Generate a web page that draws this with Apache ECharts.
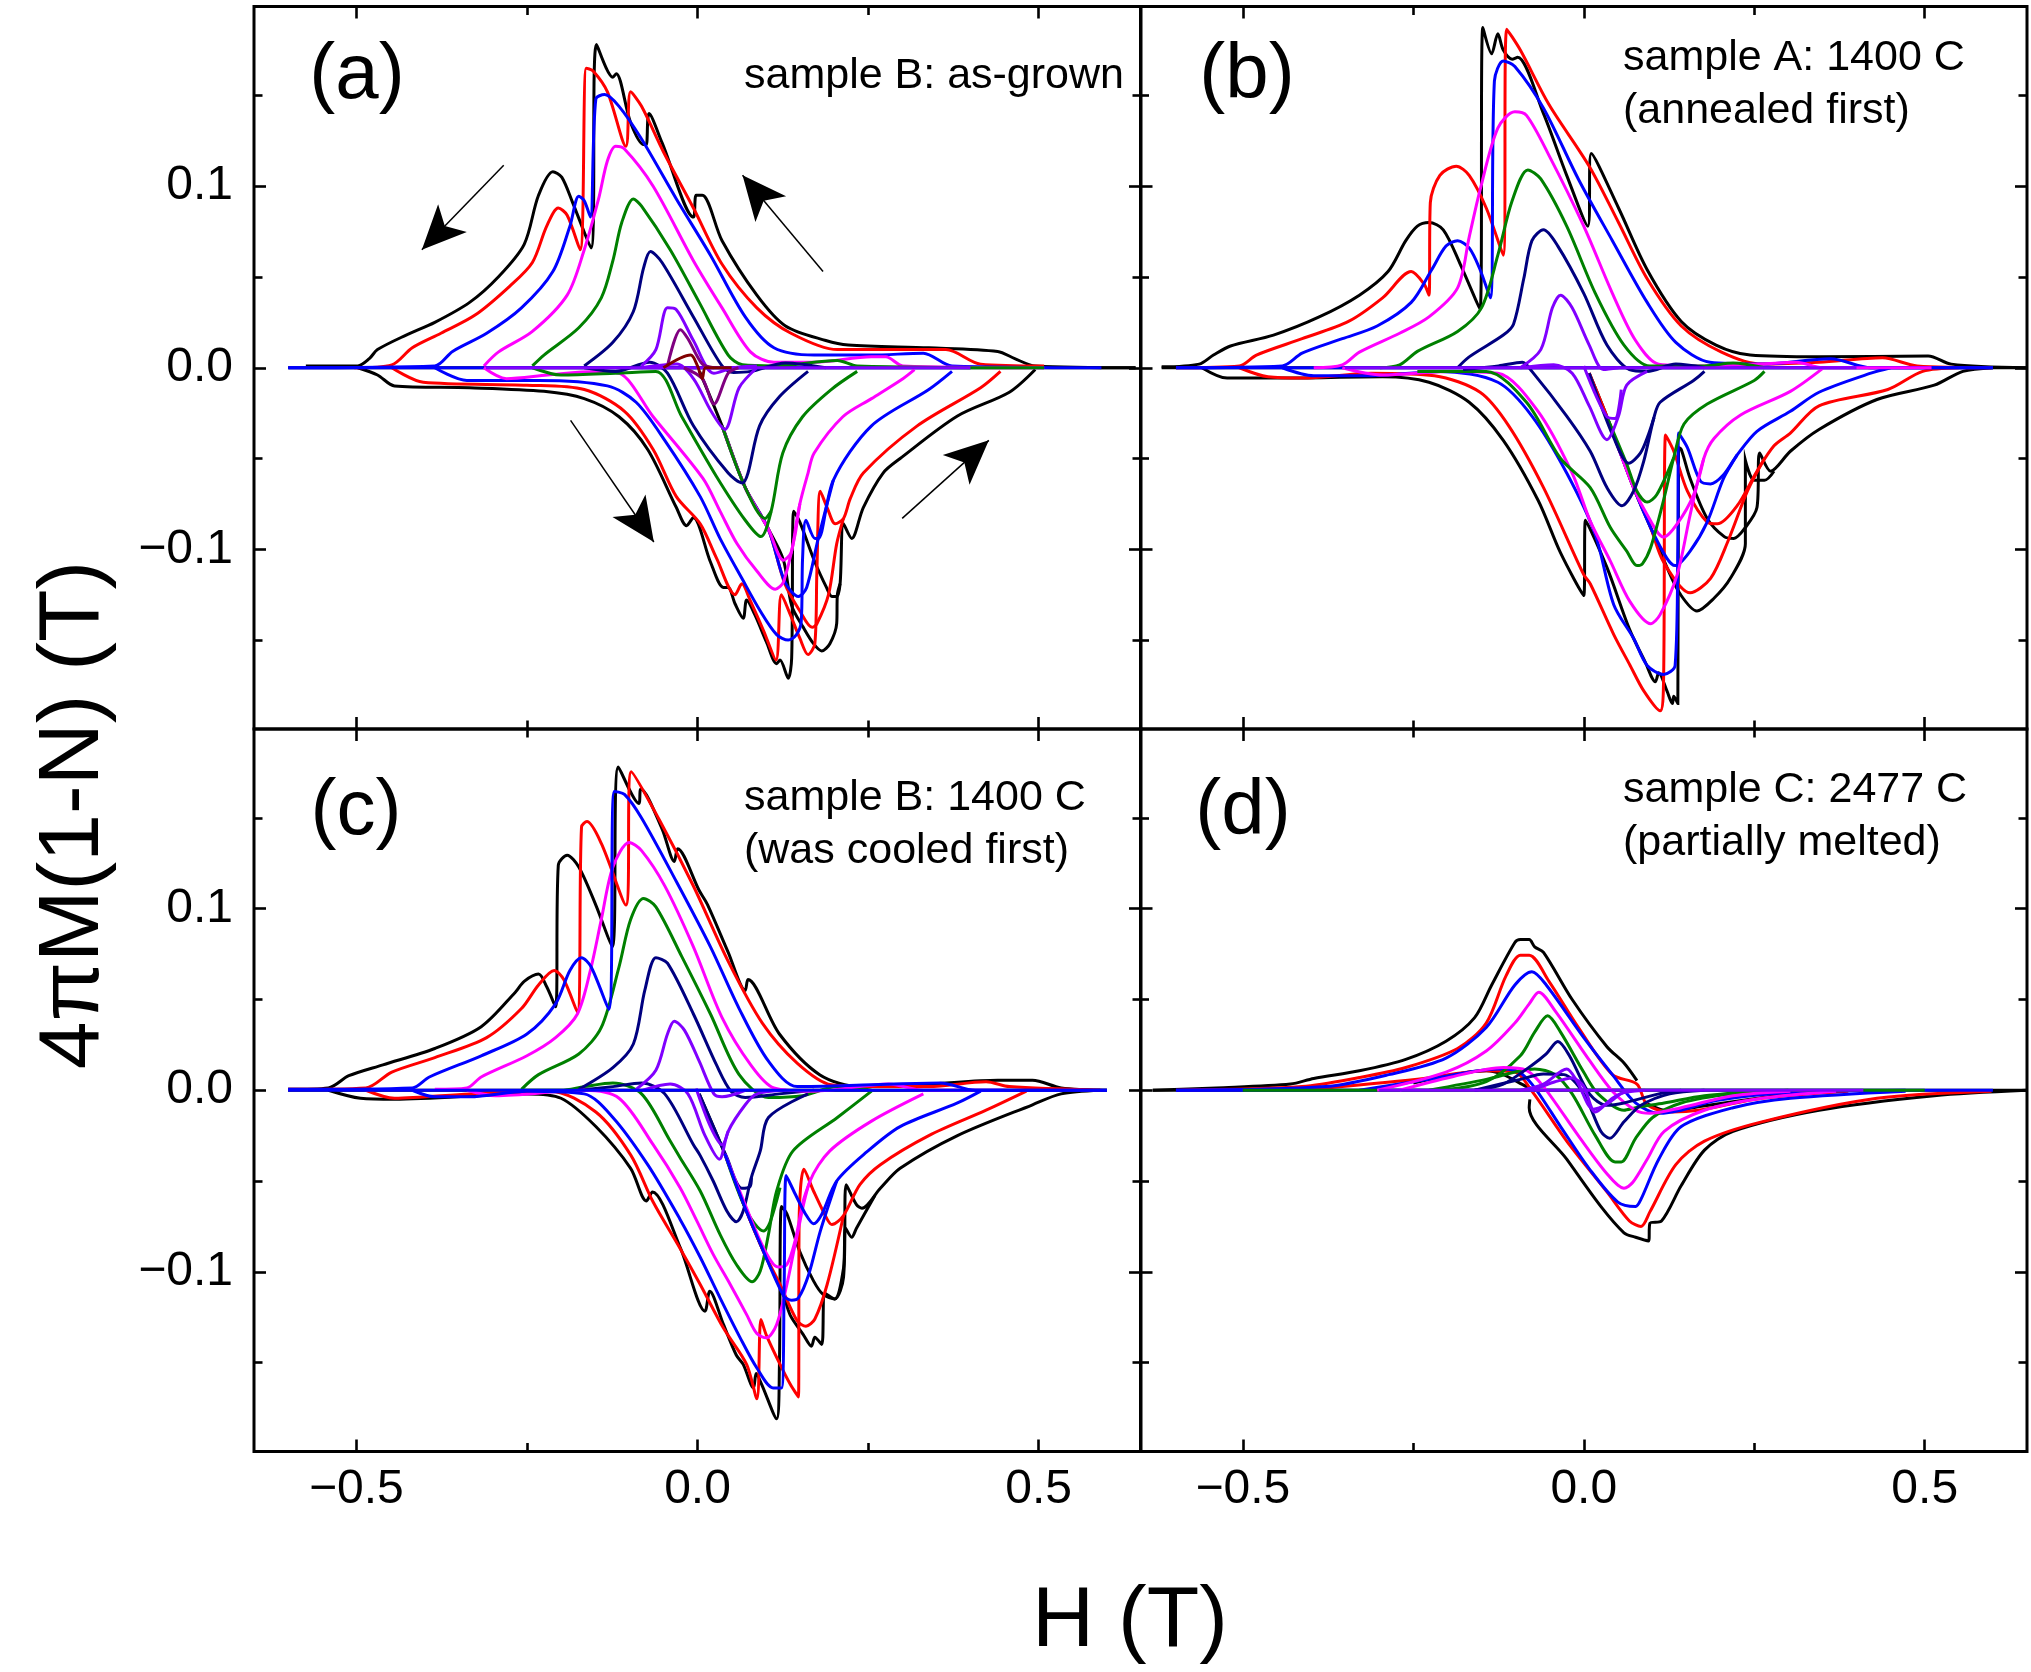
<!DOCTYPE html>
<html>
<head>
<meta charset="utf-8">
<title>4piM(1-N) vs H</title>
<script src="https://cdn.jsdelivr.net/npm/echarts@6/dist/echarts.min.js"></script>
<style>html,body{margin:0;background:#fff}#main{width:2031px;height:1672px}</style>
</head>
<body>
<div id="main"></div>
<script>
// all points are [H (T), 4piM(1-N) (T)]
var xMajor = [-0.5, 0, 0.5], xMinor = [-0.25, 0.25];
var yMajor = [-0.1, 0, 0.1], yMinor = [-0.15, -0.05, 0.05, 0.15];
var panelLabels = ['(a)', '(b)', '(c)', '(d)'];
var panelNotes = [['sample B: as-grown'], ['sample A: 1400 C', '(annealed first)'], ['sample B: 1400 C', '(was cooled first)'], ['sample C: 2477 C', '(partially melted)']];
var xTitle = 'H (T)', yTitle = '4\u03C0M(1-N) (T)';
var black = '#000000', red = '#ff0000', blue = '#0000ff', magenta = '#ff00ff', green = '#008000', navy = '#000080', violet = '#8000ff', plum = '#800080', maroon = '#800000';

// panel a
var aArrows = [[[-.284,.1115],[-.404,.065]], [[.184,.053],[.066,.106]], [[-.186,-.029],[-.064,-.096]], [[.300,-.083],[.427,-.040]]];
var aBaseBlack = [[-.6,0],[.642,0]], aBaseBlue = [[-.6,0],[.4,0]], aBaseViolet = [[-.31,0],[.4,0]];
var aBlackUp = [[-.574,.001],[-.498,.001],[-.481,.005],[-.469,.010],[-.427,.018],[-.385,.025],[-.334,.036],[-.292,.050],[-.254,.068],[-.233,.095],[-.212,.108],[-.199,.105],[-.183,.091],[-.156,.066],[-.148,.178],[-.124,.160],[-.119,.162],[-.098,.135],[-.079,.123],[-.075,.123],[-.071,.140],[-.052,.124],[-.006,.083],[-.002,.095],[.007,.095],[.036,.070],[.087,.040],[.129,.023],[.188,.015],[.221,.0125],[.339,.011],[.440,.009],[.465,.005],[.495,.001],[.642,0]];
var aBlackLow = [[-.498,0],[-.469,-.004],[-.444,-.010],[-.334,-.011],[-.225,-.013],[-.166,-.017],[-.115,-.027],[-.073,-.045],[-.031,-.077],[-.016,-.087],[-.006,-.0825],[.019,-.107],[.038,-.121],[.045,-.121],[.055,-.130],[.067,-.138],[.072,-.128],[.084,-.136],[.101,-.151],[.116,-.163],[.121,-.161],[.133,-.171],[.138,-.160],[.141,-.079],[.150,-.085],[.172,-.107],[.189,-.121],[.197,-.126],[.204,-.126],[.209,-.119],[.214,-.086],[.226,-.094],[.243,-.077],[.272,-.058],[.297,-.050],[.381,-.0266],[.457,-.0135],[.495,-.001]];
var aBlackFirst = [[.003,-.002],[.036,-.032],[.070,-.066],[.104,-.089],[.126,-.106],[.138,-.131],[.155,-.143],[.170,-.152],[.182,-.156],[.194,-.152],[.204,-.141],[.205,-.125],[.209,-.119]];
var aRedUp = [[-.503,0],[-.448,.0016],[-.418,.011],[-.376,.019],[-.326,.029],[-.275,.045],[-.242,.058],[-.221,.078],[-.204,.088],[-.191,.084],[-.172,.065],[-.163,.165],[-.153,.1635],[-.132,.152],[-.105,.122],[-.098,.152],[-.082,.144],[-.050,.119],[-.006,.088],[.036,.057],[.087,.033],[.137,.019],[.205,.010],[.364,.010],[.415,.002],[.508,.001]];
var aRedLow = [[-.448,0],[-.402,-.008],[-.25,-.0096],[-.166,-.012],[-.107,-.024],[-.065,-.045],[-.031,-.071],[.004,-.086],[.028,-.105],[.055,-.125],[.065,-.119],[.077,-.128],[.097,-.145],[.115,-.161],[.123,-.125],[.136,-.136],[.150,-.149],[.162,-.158],[.172,-.152],[.175,-.112],[.180,-.068],[.190,-.077],[.202,-.086],[.214,-.083],[.224,-.072],[.243,-.058],[.322,-.032],[.415,-.011],[.444,-.002]];
var aRedFirst = [[.036,-.032],[.070,-.066],[.104,-.089],[.128,-.119],[.150,-.134],[.168,-.143],[.175,-.141],[.192,-.125],[.204,-.097],[.214,-.083]];
var aBlueUp = [[-.599,0],[-.385,.001],[-.359,.009],[-.309,.019],[-.258,.033],[-.212,.053],[-.187,.078],[-.174,.0945],[-.166,.092],[-.157,.083],[-.149,.148],[-.136,.1505],[-.115,.144],[-.082,.126],[-.031,.093],[.019,.062],[.070,.028],[.112,.011],[.171,.007],[.255,.007],[.331,.008],[.373,.001],[.592,0]];
var aBlueLow = [[-.385,0],[-.338,-.007],[-.233,-.007],[-.132,-.010],[-.09,-.019],[-.048,-.040],[.004,-.071],[.033,-.094],[.065,-.116],[.092,-.134],[.116,-.147],[.133,-.150],[.145,-.147],[.152,-.140],[.154,-.105],[.159,-.084],[.172,-.094],[.177,-.094],[.199,-.062],[.255,-.032],[.339,-.012],[.373,-.002]];
var aBlueFirst = [[.036,-.032],[.070,-.066],[.104,-.089],[.128,-.118],[.148,-.126],[.160,-.121],[.177,-.094],[.199,-.062]];
var aMagentaUp = [[-.313,.001],[-.292,.0086],[-.242,.020],[-.191,.040],[-.166,.065],[-.145,.093],[-.132,.114],[-.120,.122],[-.107,.1205],[-.065,.100],[-.006,.059],[.036,.033],[.078,.0086],[.112,.003],[.171,.003],[.255,.006],[.276,.006],[.301,.001],[.508,0]];
var aMagentaLow = [[-.313,0],[-.28,-.006],[-.22,-.004],[-.15,-.002],[-.115,-.003],[-.065,-.027],[.008,-.061],[.033,-.079],[.058,-.097],[.087,-.112],[.114,-.122],[.126,-.118],[.143,-.092],[.150,-.075],[.162,-.058],[.171,-.047],[.213,-.027],[.255,-.017],[.301,-.006],[.318,-.001]];
var aMagentaFirst = [[.036,-.032],[.070,-.066],[.104,-.089],[.126,-.106],[.137,-.102],[.145,-.085],[.150,-.075]];
var aGreenUp = [[-.242,.001],[-.225,.007],[-.174,.022],[-.141,.0385],[-.124,.059],[-.111,.080],[-.094,.093],[-.082,.089],[-.040,.065],[.0025,.036],[.045,.007],[.066,.0016],[.112,.001],[.205,.004],[.234,.001],[.508,0]];
var aGreenLow = [[-.242,0],[-.2,-.004],[-.12,-.003],[-.061,-.002],[-.023,-.027],[.028,-.060],[.07,-.084],[.093,-.093],[.108,-.079],[.125,-.047],[.154,-.027],[.196,-.012],[.234,-.002]];
var aGreenFirst = [[.036,-.032],[.070,-.066],[.099,-.083],[.108,-.079]];
var aNavyUp = [[-.166,.001],[-.124,.014],[-.094,.031],[-.079,.055],[-.069,.064],[-.052,.058],[-.006,.028],[.036,.001],[.053,-.0026],[.078,-.002],[.129,.0026],[.188,0]];
var aNavyLow = [[-.166,0],[-.12,-.002],[-.07,.003],[-.044,-.003],[-.006,-.032],[.045,-.058],[.066,-.0635],[.074,-.058],[.091,-.032],[.120,-.016],[.162,-.002]];
var aVioletUp = [[-.082,.001],[-.061,.010],[-.044,.033],[-.031,.032],[-.006,.015],[.024,-.003],[.053,0],[.087,.001]];
var aVioletLow = [[-.082,0],[-.03,.002],[-.006,-.006],[.02,-.024],[.040,-.034],[.061,-.011],[.087,0]];
var aPlumUp = [[-.044,.001],[-.025,.021],[-.014,.016],[.007,.002],[.024,0]];
var aPlumLow = [[-.02,0],[.007,-.006],[.024,-.020],[.045,-.003],[.06,0]];
var aMaroon = [[-.05,0],[-.01,.007],[0,.001],[.007,-.006],[.012,0],[.05,0]];

// panel b
var bBaseBlack = [[-.619,0],[.649,0]], bBaseBlue = [[-.598,0],[.6,0]], bBaseViolet = [[-.35,0],[.4,0]];
var bBlackUp = [[-.619,.0005],[-.564,.002],[-.543,.007],[-.518,.012],[-.455,.018],[-.388,.028],[-.329,.040],[-.287,.053],[-.261,.070],[-.244,.078],[-.227,.080],[-.206,.076],[-.181,.057],[-.152,.032],[-.148,.1875],[-.135,.173],[-.126,.184],[-.118,.175],[-.105,.170],[-.097,.171],[-.059,.140],[-.025,.106],[.006,.078],[.011,.118],[.051,.088],[.093,.054],[.143,.0255],[.194,.0125],[.244,.007],[.345,.006],[.505,.0065],[.539,.002],[.649,0]];
var bBlackLow = [[-.56,0],[-.523,-.0057],[-.446,-.0057],[-.295,-.005],[-.227,-.008],[-.168,-.019],[-.118,-.040],[-.067,-.073],[-.034,-.102],[0,-.1255],[.0025,-.084],[.034,-.110],[.067,-.144],[.090,-.162],[.105,-.173],[.110,-.168],[.122,-.178],[.130,-.185],[.132,-.181],[.138,-.185],[.139,-.044],[.143,-.045],[.156,-.061],[.181,-.083],[.206,-.093],[.220,-.094],[.237,-.088],[.254,-.077],[.258,-.047],[.274,-.057],[.303,-.046],[.345,-.034],[.430,-.0175],[.514,-.0096],[.556,-.002],[.6,0]];
var bBlackFirst = [[.008,-.003],[.034,-.027],[.073,-.066],[.098,-.088],[.122,-.110],[.142,-.125],[.166,-.134],[.191,-.127],[.215,-.116],[.237,-.097],[.237,-.051],[.250,-.062],[.265,-.062],[.279,-.057]];
var bRedUp = [[-.598,0],[-.505,.001],[-.480,.007],[-.413,.016],[-.345,.0255],[-.295,.0385],[-.253,.053],[-.234,.046],[-.227,.040],[-.225,.091],[-.211,.106],[-.187,.111],[-.168,.106],[-.143,.088],[-.118,.062],[-.113,.1865],[-.093,.175],[-.051,.145],[.008,.111],[.051,.080],[.093,.049],[.143,.023],[.202,.0086],[.261,.002],[.345,.003],[.438,.0055],[.489,.001],[.598,0]];
var bRedLow = [[-.505,0],[-.463,-.005],[-.413,-.0057],[-.312,-.003],[-.219,-.0044],[-.152,-.0135],[-.11,-.032],[-.059,-.066],[0,-.114],[.0095,-.119],[.044,-.147],[.068,-.164],[.088,-.178],[.112,-.189],[.117,-.173],[.120,-.037],[.132,-.046],[.152,-.068],[.181,-.085],[.196,-.086],[.225,-.076],[.254,-.057],[.279,-.043],[.303,-.036],[.345,-.021],[.446,-.012],[.497,-.002],[.55,0]];
var bRedFirst = [[.008,-.003],[.034,-.027],[.073,-.066],[.098,-.088],[.117,-.107],[.156,-.124],[.186,-.116],[.211,-.096],[.240,-.068],[.265,-.05]];
var bBlueUp = [[-.598,0],[-.442,.001],[-.413,.008],[-.354,.016],[-.303,.023],[-.253,.036],[-.223,.054],[-.202,.067],[-.185,.070],[-.168,.066],[-.152,.054],[-.137,.0385],[-.131,.158],[-.118,.169],[-.101,.166],[-.059,.143],[-.008,.104],[.042,.070],[.093,.036],[.135,.014],[.185,.003],[.261,.002],[.362,.005],[.421,0],[.6,0]];
var bBlueLow = [[-.442,0],[-.396,-.0044],[-.312,-.0044],[-.21,-.002],[-.126,-.008],[-.076,-.0266],[-.025,-.058],[.017,-.092],[.044,-.1305],[.073,-.149],[.093,-.164],[.117,-.169],[.134,-.164],[.138,-.099],[.139,-.036],[.152,-.044],[.171,-.0624],[.186,-.064],[.205,-.059],[.225,-.048],[.254,-.035],[.303,-.024],[.345,-.0135],[.421,-.003],[.45,0]];
var bBlueFirst = [[.034,-.027],[.073,-.066],[.098,-.088],[.122,-.105],[.134,-.109],[.156,-.101],[.181,-.085],[.205,-.061],[.225,-.048]];
var bMagentaUp = [[-.396,0],[-.354,.0016],[-.329,.0086],[-.270,.019],[-.227,.028],[-.185,.044],[-.168,.072],[-.152,.098],[-.126,.132],[-.101,.141],[-.084,.139],[-.051,.117],[0,.078],[.042,.041],[.076,.015],[.110,.002],[.177,.001],[.261,.002],[.312,.003],[.350,0],[.51,0]];
var bMagentaLow = [[-.354,0],[-.295,-.004],[-.2,-.002],[-.126,-.003],[-.067,-.024],[-.017,-.058],[.0095,-.0845],[.039,-.1065],[.068,-.129],[.098,-.141],[.112,-.136],[.137,-.114],[.156,-.081],[.176,-.050],[.191,-.039],[.230,-.026],[.303,-.013],[.350,-.0005]];
var bMagentaFirst = [[.034,-.027],[.073,-.066],[.093,-.081],[.117,-.0933],[.137,-.086],[.161,-.070],[.176,-.050]];
var bGreenUp = [[-.299,0],[-.270,.0016],[-.244,.009],[-.185,.020],[-.150,.033],[-.126,.062],[-.105,.092],[-.082,.109],[-.063,.104],[-.025,.078],[.017,.041],[.059,.0125],[.097,.001],[.177,.001],[.219,.0026],[.265,0]];
var bGreenLow = [[-.244,-.002],[-.143,-.002],[-.084,-.019],[-.034,-.05],[.0095,-.066],[.039,-.088],[.063,-.101],[.078,-.109],[.086,-.108],[.098,-.0992],[.117,-.073],[.132,-.0495],[.147,-.031],[.181,-.02],[.250,-.007],[.265,-.002]];
var bGreenFirst = [[.034,-.027],[.063,-.053],[.078,-.068],[.093,-.074],[.107,-.07],[.132,-.0495]];
var bNavyUp = [[-.185,0],[-.168,.006],[-.118,.018],[-.103,.024],[-.088,.049],[-.076,.070],[-.059,.076],[-.038,.067],[0,.041],[.034,.0125],[.067,-.001],[.093,-.002],[.135,.002],[.177,0]];
var bNavyLow = [[-.177,-.001],[-.125,.001],[-.09,.003],[-.076,-.002],[-.025,-.0266],[.0095,-.046],[.034,-.066],[.056,-.076],[.073,-.068],[.088,-.0514],[.103,-.0274],[.112,-.019],[.161,-.007],[.177,-.002]];
var bNavyFirst = [[.008,-.003],[.044,-.0385],[.066,-.0526],[.083,-.047],[.095,-.0366],[.103,-.0274]];
var bVioletUp = [[-.093,0],[-.063,.010],[-.046,.033],[-.034,.040],[-.017,.033],[.008,.0125],[.029,-.001],[.051,0]];
var bVioletLow = [[-.093,0],[-.044,.0016],[-.017,-.003],[.008,-.021],[.034,-.0396],[.051,-.0266],[.063,-.0096],[.093,-.002]];
var bVioletFirst = [[0,.001],[.034,-.027],[.046,-.028],[.055,-.012]];

// panel c
var cBaseBlack = [[-.6,0],[.6,0]], cBaseBlue = [[-.6,0],[.6,0]];
var cBlackUp = [[-.600,.0005],[-.541,.0013],[-.511,.008],[-.461,.014],[-.385,.023],[-.317,.035],[-.267,.054],[-.254,.060],[-.233,.064],[-.221,.057],[-.208,.046],[-.204,.124],[-.191,.1295],[-.174,.123],[-.149,.102],[-.125,.079],[-.116,.178],[-.086,.158],[-.083,.166],[-.052,.144],[-.034,.126],[-.029,.133],[.0025,.110],[.015,.102],[.045,.076],[.070,.055],[.074,.061],[.120,.031],[.179,.0086],[.238,.002],[.339,.0034],[.440,.0055],[.491,.0055],[.533,.0013],[.600,0]];
var cBlackLow = [[-.541,0],[-.494,-.0044],[-.444,-.005],[-.25,-.002],[-.2,-.0044],[-.149,-.02],[-.098,-.043],[-.075,-.061],[-.066,-.056],[-.025,-.087],[.011,-.1217],[.018,-.1107],[.038,-.129],[.057,-.146],[.067,-.151],[.082,-.164],[.086,-.156],[.094,-.162],[.116,-.181],[.120,-.153],[.123,-.064],[.131,-.068],[.150,-.089],[.170,-.105],[.184,-.1125],[.201,-.115],[.214,-.103],[.218,-.052],[.233,-.063],[.241,-.065],[.268,-.054],[.297,-.043],[.381,-.025],[.491,-.008],[.533,-.002],[.59,0]];
var cBlackFirst = [[.0025,-.002],[.04,-.035],[.07,-.065],[.097,-.089],[.126,-.113],[.136,-.124],[.155,-.1346],[.167,-.141],[.172,-.136],[.182,-.140],[.187,-.112],[.201,-.115],[.214,-.098],[.217,-.076],[.226,-.081],[.233,-.076],[.26,-.058]];
var cRedUp = [[-.6,.0005],[-.486,.0013],[-.448,.010],[-.385,.018],[-.309,.029],[-.258,.045],[-.233,.058],[-.21,.066],[-.196,.061],[-.176,.043],[-.170,.145],[-.162,.148],[-.141,.136],[-.105,.102],[-.097,.1755],[-.056,.149],[-.006,.1125],[.045,.071],[.095,.037],[.146,.015],[.196,.003],[.255,.002],[.339,.002],[.423,.0047],[.457,.002],[.592,0]];
var cRedLow = [[-.486,0],[-.444,-.0044],[-.334,-.002],[-.216,-.0005],[-.149,-.012],[-.098,-.0356],[-.065,-.0616],[-.0257,-.087],[.004,-.107],[.038,-.131],[.072,-.151],[.087,-.17],[.093,-.1263],[.101,-.135],[.121,-.151],[.136,-.162],[.148,-.169],[.149,-.070],[.156,-.0435],[.170,-.0555],[.19,-.071],[.197,-.074],[.214,-.069],[.238,-.052],[.268,-.041],[.339,-.025],[.423,-.011],[.482,-.0005]];
var cRedFirst = [[.04,-.035],[.07,-.065],[.097,-.089],[.121,-.107],[.146,-.127],[.159,-.130],[.172,-.126],[.19,-.107],[.214,-.069]];
var cBlueUp = [[-.6,.0005],[-.418,.0013],[-.393,.0073],[-.317,.019],[-.25,.031],[-.208,.0476],[-.187,.066],[-.17,.073],[-.156,.068],[-.130,.0445],[-.122,.1646],[-.107,.163],[-.082,.150],[-.031,.115],[.019,.079],[.061,.045],[.104,.016],[.146,.002],[.255,.003],[.356,.004],[.407,0],[.6,0]];
var cBlueLow = [[-.418,0],[-.385,-.0036],[-.334,-.0036],[-.25,-.0005],[-.166,-.002],[-.124,-.015],[-.073,-.041],[-.0257,-.071],[.004,-.092],[.033,-.1144],[.062,-.136],[.087,-.153],[.111,-.164],[.123,-.164],[.127,-.107],[.130,-.047],[.143,-.057],[.158,-.068],[.170,-.0735],[.182,-.0684],[.204,-.05],[.248,-.034],[.297,-.02],[.381,-.007],[.415,-.0005]];
var cBlueFirst = [[.04,-.035],[.07,-.065],[.097,-.089],[.126,-.113],[.138,-.1157],[.148,-.1144],[.163,-.1015],[.18,-.0776],[.204,-.05]];
var cMagentaUp = [[-.385,.0005],[-.338,.0013],[-.317,.0073],[-.25,.019],[-.208,.029],[-.176,.042],[-.157,.066],[-.141,.094],[-.124,.123],[-.100,.1365],[-.082,.132],[-.048,.1126],[-.006,.079],[.036,.040],[.078,.014],[.112,.0013],[.171,-.0005],[.28,.0034],[.331,0],[.45,0]];
var cMagentaLow = [[-.338,0],[-.296,-.003],[-.166,0],[-.115,-.0044],[-.065,-.03],[-.0257,-.0536],[-.001,-.072],[.023,-.0904],[.048,-.107],[.072,-.1236],[.087,-.134],[.101,-.1364],[.116,-.129],[.131,-.107],[.146,-.08],[.165,-.05],[.194,-.0334],[.255,-.017],[.331,-.002]];
var cMagentaFirst = [[.04,-.035],[.072,-.065],[.097,-.087],[.118,-.0974],[.131,-.096],[.143,-.083],[.155,-.061],[.165,-.05]];
var cGreenUp = [[-.258,.0005],[-.233,.0086],[-.174,.020],[-.141,.0346],[-.115,.068],[-.098,.094],[-.079,.1056],[-.061,.101],[-.023,.0736],[.019,.042],[.061,.0086],[.104,-.004],[.154,-.003],[.205,.002],[.255,0]];
var cGreenLow = [[-.258,0],[-.2,0],[-.166,.002],[-.124,.004],[-.082,-.002],[-.04,-.028],[-.0257,-.037],[.004,-.0555],[.033,-.0794],[.057,-.096],[.08,-.1055],[.092,-.0996],[.104,-.0794],[.116,-.0555],[.14,-.0334],[.205,-.015],[.255,-.0005]];
var cGreenFirst = [[.04,-.035],[.072,-.0665],[.097,-.0776],[.106,-.073],[.121,-.0536]];
var cNavyUp = [[-.174,.0005],[-.124,.0125],[-.094,.0255],[-.077,.0554],[-.061,.073],[-.044,.070],[-.006,.042],[.028,.0138],[.049,-.0005],[.070,-.004],[.12,-.002],[.171,0]];
var cNavyLow = [[-.174,0],[-.124,.002],[-.082,.004],[-.048,-.002],[-.006,-.03],[.004,-.036],[.023,-.05],[.043,-.0665],[.057,-.0724],[.067,-.0665],[.079,-.048],[.092,-.0334],[.104,-.015],[.162,-.002]];
var cNavyFirst = [[.0025,-.002],[.043,-.037],[.065,-.054],[.077,-.053],[.079,-.048]];
var cVioletUp = [[-.09,.0005],[-.061,.011],[-.044,.031],[-.034,.038],[-.019,.033],[.0025,.016],[.024,-.002],[.036,-.0036],[.07,0]];
var cVioletLow = [[-.08,0],[-.04,.0034],[-.014,-.002],[.011,-.025],[.032,-.038],[.045,-.0226],[.07,-.008],[.087,-.002],[.13,0]];
var cVioletFirst = [[-.002,.001],[.019,-.02],[.036,-.03],[.045,-.0226]];

// panel d
var dBaseBlack = [[-.632,0],[.649,0]], dBaseBlue = [[-.598,0],[.6,0]], dBaseGreen = [[-.5,0],[.5,0]], dBaseViolet = [[-.3,0],[.41,0]];
var dBlackUp = [[-.632,0],[-.539,.0013],[-.43,.0034],[-.396,.0065],[-.329,.0107],[-.261,.017],[-.202,.027],[-.16,.04],[-.135,.058],[-.101,.0814],[-.093,.083],[-.08,.083],[-.072,.079],[-.059,.076],[-.017,.05],[.034,.024],[.059,.015],[.078,.0053]];
var dBlackLow = [[-.079,-.005],[-.08,-.0096],[-.025,-.038],[.025,-.064],[.059,-.0785],[.076,-.081],[.095,-.083],[.097,-.0733],[.114,-.072],[.143,-.0525],[.177,-.033],[.219,-.0226],[.345,-.011],[.514,-.003],[.649,0]];
var dBlackInner = [[-.25,.004],[-.143,.0107],[-.118,.0086],[-.084,.002],[-.07,0]];
var dBlackTail = [[.09,-.007],[.125,-.0115],[.17,-.009],[.3,-.002]];
var dRedUp = [[-.598,0],[-.413,.002],[-.329,.007],[-.261,.0125],[-.185,.023],[-.143,.037],[-.114,.063],[-.093,.0744],[-.08,.0744],[-.051,.06],[-.008,.0346],[.042,.0086],[.078,.0034],[.093,-.008],[.13,-.012],[.168,-.011],[.261,-.0044],[.388,-.0005]];
var dRedLow = [[-.413,0],[-.244,.006],[-.143,.0107],[-.101,.01],[-.076,-.0005],[-.025,-.028],[.034,-.056],[.067,-.072],[.084,-.075],[.097,-.067],[.135,-.041],[.177,-.028],[.261,-.0174],[.43,-.0044],[.598,-.0005]];
var dBlueUp = [[-.598,0],[-.379,.002],[-.286,.0086],[-.202,.0177],[-.143,.0346],[-.101,.058],[-.076,.0653],[-.055,.058],[0,.029],[.042,.0086],[.076,-.007],[.11,-.0127],[.143,-.011],[.194,-.0057],[.303,-.0013],[.472,0]];
var dBlueLow = [[-.329,0],[-.227,.006],[-.126,.0117],[-.101,.011],[-.076,.0034],[-.034,-.02],[.0084,-.0434],[.05,-.0616],[.076,-.064],[.084,-.06],[.11,-.038],[.143,-.02],[.219,-.0096],[.303,-.0044],[.472,-.0005]];
var dMagentaUp = [[-.303,0],[-.202,.01],[-.143,.0216],[-.101,.037],[-.08,.0476],[-.066,.054],[-.042,.0437],[.0084,.0164],[.042,-.0005],[.076,-.011],[.097,-.0127],[.143,-.0096],[.219,-.003],[.303,-.0005]];
var dMagentaLow = [[-.27,0],[-.194,.0073],[-.118,.0125],[-.084,.011],[-.059,.002],[-.008,-.025],[.034,-.046],[.059,-.054],[.072,-.0507],[.093,-.038],[.118,-.0226],[.177,-.011],[.261,-.0044],[.37,-.0005]];
var dGreenUp = [[-.211,0],[-.143,.0047],[-.093,.019],[-.072,.032],[-.053,.041],[-.034,.032],[0,.0099],[.021,-.002],[.059,-.011],[.076,-.0096],[.118,-.007],[.177,-.003],[.261,-.0005]];
var dGreenLow = [[-.227,0],[-.143,.006],[-.072,.0117],[-.042,.0086],[-.017,-.002],[.017,-.025],[.046,-.0395],[.055,-.0395],[.076,-.0265],[.101,-.015],[.143,-.007],[.219,-.002],[.3,0]];
var dNavyUp = [[-.16,0],[-.118,.0034],[-.076,.0138],[-.055,.02],[-.038,.0268],[-.021,.019],[.0084,-.002],[.034,-.0083],[.059,-.007],[.11,-.002],[.143,0]];
var dNavyLow = [[-.16,0],[-.093,.006],[-.059,.009],[-.029,.0086],[0,-.002],[.025,-.0226],[.038,-.0265],[.059,-.0174],[.084,-.0083],[.126,-.002],[.177,0]];
var dVioletUp = [[-.093,0],[-.059,.0034],[-.025,.0117],[-.01,.005],[.014,-.0104],[.034,-.0076],[.058,-.0012],[.083,0]];
var dVioletLow = [[-.076,0],[-.042,.0047],[-.017,.0068],[0,.002],[.017,-.012],[.042,-.0044],[.059,-.0013],[.09,0]];

var aCurves = [[black,aBaseBlack],[black,aBlackUp],[black,aBlackLow],[black,aBlackFirst],[red,aRedUp],[red,aRedLow],[red,aRedFirst],[blue,aBaseBlue],[blue,aBlueUp],[blue,aBlueLow],[blue,aBlueFirst],[magenta,aMagentaUp],[magenta,aMagentaLow],[magenta,aMagentaFirst],[green,aGreenUp],[green,aGreenLow],[green,aGreenFirst],[navy,aNavyUp],[navy,aNavyLow],[violet,aBaseViolet],[violet,aVioletUp],[violet,aVioletLow],[plum,aPlumUp],[plum,aPlumLow],[maroon,aMaroon]];
var bCurves = [[black,bBaseBlack],[black,bBlackUp],[black,bBlackLow],[black,bBlackFirst],[red,bRedUp],[red,bRedLow],[red,bRedFirst],[blue,bBaseBlue],[blue,bBlueUp],[blue,bBlueLow],[blue,bBlueFirst],[magenta,bMagentaUp],[magenta,bMagentaLow],[magenta,bMagentaFirst],[green,bGreenUp],[green,bGreenLow],[green,bGreenFirst],[navy,bNavyUp],[navy,bNavyLow],[navy,bNavyFirst],[violet,bBaseViolet],[violet,bVioletUp],[violet,bVioletLow],[violet,bVioletFirst]];
var cCurves = [[black,cBaseBlack],[black,cBlackUp],[black,cBlackLow],[black,cBlackFirst],[red,cRedUp],[red,cRedLow],[red,cRedFirst],[green,cGreenUp],[green,cGreenLow],[green,cGreenFirst],[navy,cNavyUp],[navy,cNavyLow],[navy,cNavyFirst],[violet,cVioletUp],[violet,cVioletLow],[violet,cVioletFirst],[magenta,cMagentaUp],[magenta,cMagentaLow],[magenta,cMagentaFirst],[blue,cBaseBlue],[blue,cBlueUp],[blue,cBlueLow],[blue,cBlueFirst]];
var dCurves = [[black,dBaseBlack],[black,dBlackUp],[black,dBlackLow],[black,dBlackInner],[black,dBlackTail],[red,dRedUp],[red,dRedLow],[blue,dBaseBlue],[blue,dBlueUp],[blue,dBlueLow],[green,dBaseGreen],[green,dGreenUp],[green,dGreenLow],[magenta,dMagentaUp],[magenta,dMagentaLow],[navy,dNavyUp],[navy,dNavyLow],[violet,dBaseViolet],[violet,dVioletUp],[violet,dVioletLow]];
var allCurves = [aCurves, bCurves, cCurves, dCurves];

var fontName = '"Liberation Sans", Arial, sans-serif';
var lefts = [254, 1140.5, 254, 1140.5], tops = [6.5, 6.5, 729, 729];
var gridW = [887, 886.5, 887, 886.5], gridH = 722.5;

function num(v) {
  return (v < 0 ? '\u2212' : '') + Math.abs(v).toFixed(1);
}

var grids = [], xAxes = [], yAxes = [], series = [], graphics = [];

function addAxes(list, p, kind, pos, vals, len, showLabel) {
  var isX = kind == 'x';
  list.push({
    type: 'value', gridIndex: p, position: pos,
    min: isX ? -0.65 : -0.199, max: isX ? 0.65 : 0.199,
    splitLine: {show: false},
    axisLine: {show: false, onZero: false},
    axisTick: {show: true, inside: true, length: len, customValues: vals, lineStyle: {color: '#000', width: 2.6}},
    axisLabel: {
      show: showLabel, customValues: vals, formatter: num, color: '#000',
      fontFamily: fontName, fontSize: 48, margin: isX ? 14 : 21
    }
  });
}

for (var p = 0; p < 4; p++) {
  grids.push({left: lefts[p], top: tops[p], width: gridW[p], height: gridH, show: true, borderColor: '#000', borderWidth: 3, backgroundColor: 'transparent'});
  addAxes(xAxes, p, 'x', 'bottom', xMajor, 12, p >= 2);
  addAxes(xAxes, p, 'x', 'bottom', xMinor, 8.5, false);
  addAxes(xAxes, p, 'x', 'top', xMajor, 12, false);
  addAxes(xAxes, p, 'x', 'top', xMinor, 8.5, false);
  addAxes(yAxes, p, 'y', 'left', yMajor, 12, p % 2 == 0);
  addAxes(yAxes, p, 'y', 'left', yMinor, 8.5, false);
  addAxes(yAxes, p, 'y', 'right', yMajor, 12, false);
  addAxes(yAxes, p, 'y', 'right', yMinor, 8.5, false);
  allCurves[p].forEach(function(c) {
    series.push({
      type: 'line', xAxisIndex: p * 4, yAxisIndex: p * 4, data: c[1],
      showSymbol: false, symbol: 'none', silent: true, smooth: 0.3,
      lineStyle: {color: c[0], width: 3, join: 'miter'}, itemStyle: {color: c[0]}
    });
  });
}

series.push({
  type: 'line', xAxisIndex: 0, yAxisIndex: 0, data: [], symbol: 'none', silent: true,
  markLine: {
    silent: true, animation: false, symbol: ['none', 'arrow'], symbolSize: [30, 44],
    label: {show: false}, emphasis: {disabled: true},
    lineStyle: {color: '#000', width: 1.5, type: 'solid'}, itemStyle: {color: '#000'},
    data: aArrows.map(function(a) { return [{coord: a[0]}, {coord: a[1]}]; })
  }
});

var labelPos = [[357, 76], [1247, 76], [356, 812], [1243, 812]];
var notePos = [[744, 76, 0], [1623, 58, 53], [744, 798, 53], [1623, 790, 53]];
panelLabels.forEach(function(t, i) {
  graphics.push({type: 'text', x: labelPos[i][0], y: labelPos[i][1], style: {text: t, font: '78px ' + fontName, fill: '#000', textAlign: 'center', textVerticalAlign: 'middle'}});
  panelNotes[i].forEach(function(n, j) {
    graphics.push({type: 'text', x: notePos[i][0], y: notePos[i][1] + j * notePos[i][2], style: {text: n, font: '43px ' + fontName, fill: '#000', textAlign: 'left', textVerticalAlign: 'middle'}});
  });
});
graphics.push({type: 'text', x: 1130, y: 1622, style: {text: xTitle, font: '86px ' + fontName, fill: '#000', textAlign: 'center', textVerticalAlign: 'middle'}});
graphics.push({type: 'text', x: 74, y: 815, rotation: Math.PI / 2, style: {text: yTitle, font: '86px ' + fontName, fill: '#000', textAlign: 'center', textVerticalAlign: 'middle'}});

var chart = echarts.init(document.getElementById('main'), null, {renderer: 'canvas'});
chart.setOption({
  animation: false,
  backgroundColor: '#fff',
  grid: grids,
  xAxis: xAxes,
  yAxis: yAxes,
  series: series,
  graphic: graphics
});
</script>
</body>
</html>
